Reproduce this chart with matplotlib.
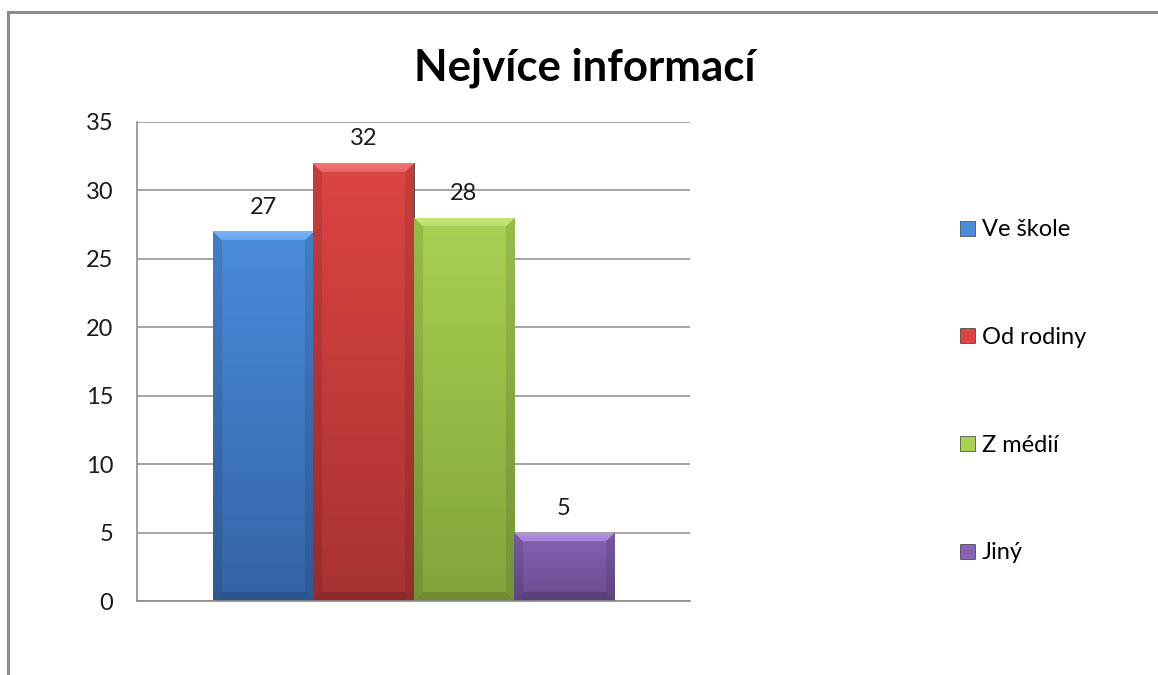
import numpy as np
import matplotlib
matplotlib.use("Agg")
import matplotlib.pyplot as plt
from matplotlib.lines import Line2D
from matplotlib.colors import to_rgb

# ---- data ----
title = "Nejvíce informací"
series = ["Ve škole", "Od rodiny", "Z médií", "Jiný"]
values = [27, 32, 28, 5]
yticks = [0, 5, 10, 15, 20, 25, 30, 35]

# ---- styles ----
top_cols = ["#4a8cdc", "#dc4442", "#a9d152", "#8663b4"]
bot_cols = ["#3463a6", "#a73332", "#82a33b", "#6b4c91"]
bevel_cols = ["#78b4f4", "#f07474", "#c6e67c", "#b592e4"]

plt.rcParams['font.family'] = ['Lato', 'DejaVu Sans']

fig = plt.figure(figsize=(11.58, 6.75), dpi=100)
fig.patch.set_facecolor("white")

# chart frame (top and left visible)
fig.add_artist(Line2D([8/1158, 1.0], [1-12/675, 1-12/675], transform=fig.transFigure,
                      color="#8c8c8c", lw=2.2))
fig.add_artist(Line2D([8/1158, 8/1158], [0, 1-12/675], transform=fig.transFigure,
                      color="#8c8c8c", lw=2.2))

ax = fig.add_axes([137/1158, 74/675, 553/1158, 479/675])
ax.set_xlim(-0.5, 0.5)
ax.set_ylim(0, 35)
ax.set_yticks(yticks)
ax.set_xticks([])
ax.tick_params(axis='y', length=0, pad=17, labelsize=17, labelcolor="#1a1a1a")
for s in ["top", "right"]:
    ax.spines[s].set_visible(False)
for s in ["left", "bottom"]:
    ax.spines[s].set_color("#8c8c8c")
    ax.spines[s].set_linewidth(1.2)
ax.yaxis.grid(True, color="#8c8c8c", lw=1.1)
ax.set_axisbelow(True)

w = 0.1813
offs = [(i - 1.5) * w for i in range(4)]
bars = ax.bar(offs, values, width=w, color=top_cols, edgecolor="#3a3a3a",
              linewidth=0.6, zorder=2)

# pixel scale
px_per_unit_y = 479 / 35.0
px_per_unit_x = 553 / 1.0

for i, b in enumerate(bars):
    x0, y0 = b.get_x(), b.get_y()
    bw, bh = b.get_width(), b.get_height()
    nx = max(int(round(bw * px_per_unit_x)), 2)
    ny = max(int(round(bh * px_per_unit_y)), 2)
    top = np.array(to_rgb(top_cols[i]))
    bot = np.array(to_rgb(bot_cols[i]))
    bev = np.array(to_rgb(bevel_cols[i]))
    vv = np.linspace(0, 1, ny)[:, None]
    uu = np.arange(nx)[None, :]
    vp = np.arange(ny)[:, None]
    img = top[None, None, :] * (1 - vv[..., None]) + bot[None, None, :] * vv[..., None]
    img = np.broadcast_to(img, (ny, nx, 3)).copy()
    bsz = 9
    dl = uu
    dr = nx - 1 - uu
    dt = vp
    db = ny - 1 - vp
    dmin = np.minimum(np.minimum(dl, dr), np.minimum(dt, db))
    topm = (dt == dmin) & (dt < bsz)
    sidem = ((dl == dmin) | (dr == dmin)) & (dmin < bsz) & ~topm
    botm = (db == dmin) & (db < bsz) & ~topm & ~sidem
    grad_t = np.broadcast_to((dt / bsz)[..., None], (ny, nx, 1))
    img[topm] = bev[None, :] * (1 - 0.35 * grad_t[topm]) + top[None, :] * 0.35 * grad_t[topm]
    img[sidem] = img[sidem] * 0.9
    img[botm] = img[botm] * 0.85
    img = np.clip(img, 0, 1)
    im = ax.imshow(img, extent=[x0, x0 + bw, y0, y0 + bh], origin="upper",
                   aspect="auto", zorder=2.5, interpolation="bilinear")
    im.set_clip_path(b)
    ax.annotate(str(values[i]), (x0 + bw / 2, y0 + bh), xytext=(0, 10),
                textcoords="offset points", ha="center", va="bottom",
                fontsize=17, color="#1a1a1a")

ax.set_xlim(-0.5, 0.5)
ax.set_ylim(0, 35)

fig.text(585/1158, 1-68/675, title, ha="center", va="center",
         fontsize=31.5, fontweight="bold", color="black")

handles = [plt.Rectangle((0, 0), 1, 1, facecolor=top_cols[i], edgecolor="#3a3a3a", lw=0.5)
           for i in range(4)]
leg = fig.legend(handles, series, loc="upper left", bbox_to_anchor=(951/1158, 1-210/675),
                 frameon=False, fontsize=17, handlelength=0.6, handleheight=0.6,
                 handletextpad=0.3, labelspacing=3.67, borderaxespad=0)

fig.savefig("out.png", dpi=100, facecolor="white")
